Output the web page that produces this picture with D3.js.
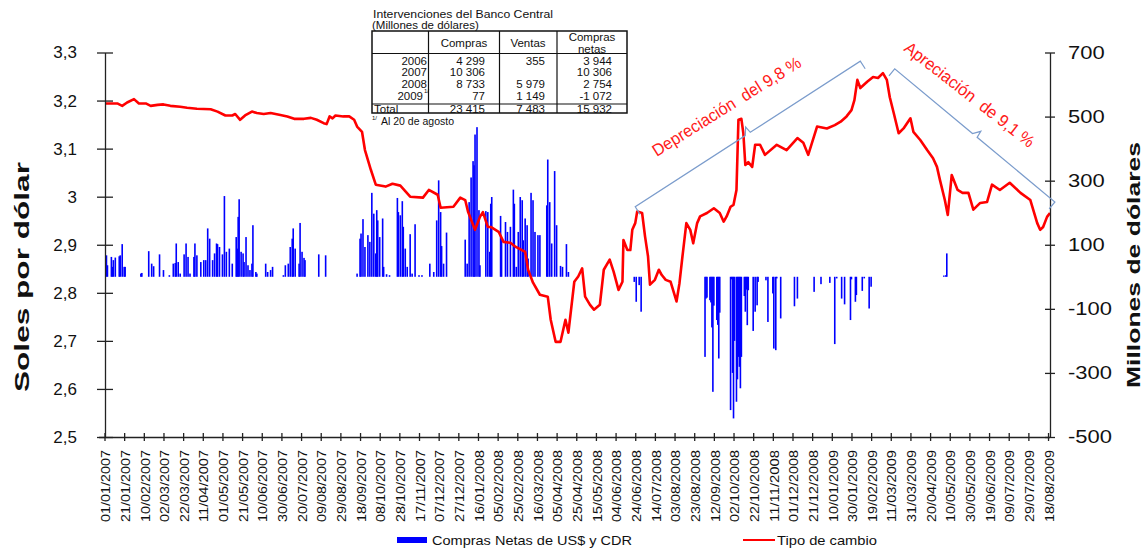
<!DOCTYPE html>
<html>
<head>
<meta charset="utf-8">
<script src="https://cdn.jsdelivr.net/npm/d3@7"></script>
<style>
  body { margin: 0; background: #fff; }
  svg { display: block; }
  text { font-family: "Liberation Sans", Arial, sans-serif; }
</style>
</head>
<body>
<div id="app"></div>
<script>
`use strict`;

// tipo de cambio (soles por dolar)
const rateDates = [
  `2007-01-02`,`2007-01-14`,`2007-01-19`,`2007-01-24`,`2007-01-31`,`2007-02-05`,`2007-02-12`,`2007-02-17`,`2007-02-24`,`2007-03-02`,
  `2007-03-09`,`2007-03-19`,`2007-03-26`,`2007-04-05`,`2007-04-19`,`2007-04-26`,`2007-05-04`,`2007-05-11`,`2007-05-14`,`2007-05-19`,
  `2007-05-24`,`2007-05-31`,`2007-06-05`,`2007-06-12`,`2007-06-19`,`2007-06-29`,`2007-07-06`,`2007-07-13`,`2007-07-23`,`2007-07-30`,
  `2007-08-05`,`2007-08-12`,`2007-08-15`,`2007-08-18`,`2007-08-21`,`2007-08-24`,`2007-09-01`,`2007-09-07`,`2007-09-12`,`2007-09-15`,
  `2007-09-20`,`2007-09-23`,`2007-09-29`,`2007-10-04`,`2007-10-14`,`2007-10-21`,`2007-10-29`,`2007-11-08`,`2007-11-21`,`2007-11-27`,
  `2007-12-06`,`2007-12-09`,`2007-12-22`,`2007-12-29`,`2008-01-03`,`2008-01-06`,`2008-01-13`,`2008-01-18`,`2008-01-21`,`2008-01-26`,
  `2008-01-29`,`2008-02-06`,`2008-02-11`,`2008-02-18`,`2008-02-23`,`2008-03-04`,`2008-03-07`,`2008-03-12`,`2008-03-19`,`2008-03-27`,
  `2008-03-30`,`2008-04-04`,`2008-04-09`,`2008-04-14`,`2008-04-17`,`2008-04-23`,`2008-04-27`,`2008-05-01`,`2008-05-04`,`2008-05-09`,
  `2008-05-13`,`2008-05-19`,`2008-05-23`,`2008-05-29`,`2008-06-02`,`2008-06-07`,`2008-06-11`,`2008-06-12`,`2008-06-16`,`2008-06-19`,
  `2008-06-21`,`2008-06-24`,`2008-06-26`,`2008-07-01`,`2008-07-04`,`2008-07-07`,`2008-07-09`,`2008-07-14`,`2008-07-18`,`2008-07-21`,
  `2008-07-25`,`2008-07-30`,`2008-08-05`,`2008-08-08`,`2008-08-11`,`2008-08-15`,`2008-08-19`,`2008-08-22`,`2008-08-26`,`2008-08-29`,
  `2008-09-05`,`2008-09-12`,`2008-09-18`,`2008-09-22`,`2008-09-25`,`2008-09-29`,`2008-10-02`,`2008-10-05`,`2008-10-07`,`2008-10-10`,
  `2008-10-12`,`2008-10-14`,`2008-10-17`,`2008-10-21`,`2008-10-24`,`2008-10-29`,`2008-11-03`,`2008-11-15`,`2008-11-25`,`2008-12-06`,
  `2008-12-12`,`2008-12-17`,`2008-12-26`,`2009-01-05`,`2009-01-13`,`2009-01-19`,`2009-01-25`,`2009-01-30`,`2009-02-02`,`2009-02-05`,
  `2009-02-08`,`2009-02-15`,`2009-02-21`,`2009-02-26`,`2009-03-03`,`2009-03-07`,`2009-03-10`,`2009-03-14`,`2009-03-19`,`2009-03-24`,
  `2009-03-31`,`2009-04-03`,`2009-04-10`,`2009-04-17`,`2009-04-23`,`2009-04-27`,`2009-04-30`,`2009-05-05`,`2009-05-08`,`2009-05-12`,
  `2009-05-18`,`2009-05-23`,`2009-05-29`,`2009-06-03`,`2009-06-10`,`2009-06-17`,`2009-06-22`,`2009-06-30`,`2009-07-10`,`2009-07-21`,
  `2009-07-31`,`2009-08-07`,`2009-08-10`,`2009-08-13`,`2009-08-17`,`2009-08-20`
];
const rateValues = [
  3.194,3.194,3.189,3.196,3.203,3.194,3.194,3.189,3.191,3.192,
  3.189,3.187,3.185,3.183,3.182,3.177,3.169,3.169,3.172,3.160,
  3.169,3.177,3.174,3.172,3.174,3.170,3.167,3.162,3.162,3.164,
  3.160,3.153,3.151,3.167,3.163,3.169,3.167,3.167,3.160,3.146,
  3.135,3.097,3.056,3.025,3.021,3.027,3.023,3.000,2.998,3.014,
  3.004,2.977,2.979,2.998,2.993,2.968,2.931,2.958,2.968,2.937,
  2.937,2.927,2.906,2.904,2.896,2.885,2.848,2.821,2.796,2.792,
  2.744,2.698,2.698,2.744,2.717,2.823,2.834,2.851,2.792,2.775,
  2.765,2.775,2.848,2.869,2.844,2.806,2.823,2.910,2.889,2.889,
  2.931,2.945,2.969,2.966,2.917,2.876,2.817,2.827,2.848,2.837,
  2.827,2.823,2.782,2.820,2.875,2.945,2.931,2.903,2.945,2.959,
  2.966,2.976,2.966,2.948,2.959,2.979,2.983,3.014,3.160,3.162,
  3.132,3.066,3.072,3.062,3.108,3.108,3.087,3.108,3.097,3.122,
  3.112,3.087,3.146,3.142,3.149,3.156,3.167,3.180,3.201,3.243,
  3.226,3.239,3.249,3.247,3.257,3.243,3.207,3.174,3.132,3.142,
  3.163,3.135,3.118,3.097,3.080,3.062,3.035,2.993,2.962,3.045,
  3.014,3.008,3.008,2.973,2.987,2.989,3.025,3.014,3.029,3.008,
  2.993,2.945,2.931,2.937,2.958,2.966
];

// compras netas de US$ y CDR (millones de dolares)
const buyDates = [
  `2007-01-03`,`2007-01-04`,`2007-01-08`,`2007-01-09`,`2007-01-10`,`2007-01-12`,`2007-01-16`,`2007-01-17`,`2007-01-19`,`2007-01-21`,
  `2007-01-22`,`2007-02-07`,`2007-02-08`,`2007-02-15`,`2007-02-18`,`2007-02-20`,`2007-02-26`,`2007-03-02`,`2007-03-08`,`2007-03-12`,
  `2007-03-14`,`2007-03-15`,`2007-03-17`,`2007-03-19`,`2007-03-23`,`2007-03-25`,`2007-03-27`,`2007-03-29`,`2007-04-02`,`2007-04-03`,
  `2007-04-05`,`2007-04-09`,`2007-04-12`,`2007-04-14`,`2007-04-16`,`2007-04-18`,`2007-04-21`,`2007-04-23`,`2007-04-25`,`2007-04-26`,
  `2007-04-28`,`2007-05-01`,`2007-05-03`,`2007-05-05`,`2007-05-08`,`2007-05-11`,`2007-05-15`,`2007-05-16`,`2007-05-17`,`2007-05-18`,
  `2007-05-20`,`2007-05-22`,`2007-05-23`,`2007-05-25`,`2007-05-27`,`2007-05-29`,`2007-05-31`,`2007-06-01`,`2007-06-04`,`2007-06-05`,
  `2007-06-14`,`2007-06-16`,`2007-06-19`,`2007-06-21`,`2007-07-02`,`2007-07-04`,`2007-07-07`,`2007-07-09`,`2007-07-11`,`2007-07-12`,
  `2007-07-14`,`2007-07-18`,`2007-07-19`,`2007-07-21`,`2007-07-23`,`2007-07-24`,`2007-08-07`,`2007-08-14`,`2007-09-15`,`2007-09-18`,
  `2007-09-19`,`2007-09-21`,`2007-09-23`,`2007-09-26`,`2007-09-28`,`2007-09-30`,`2007-10-02`,`2007-10-04`,`2007-10-05`,`2007-10-06`,
  `2007-10-08`,`2007-10-11`,`2007-10-12`,`2007-10-15`,`2007-10-18`,`2007-10-26`,`2007-10-27`,`2007-10-29`,`2007-10-31`,`2007-11-01`,
  `2007-11-03`,`2007-11-05`,`2007-11-08`,`2007-11-10`,`2007-11-13`,`2007-11-17`,`2007-11-20`,`2007-11-28`,`2007-12-02`,`2007-12-05`,
  `2007-12-07`,`2007-12-09`,`2007-12-10`,`2007-12-12`,`2007-12-15`,`2008-01-03`,`2008-01-05`,`2008-01-07`,`2008-01-09`,`2008-01-11`,
  `2008-01-12`,`2008-01-13`,`2008-01-15`,`2008-01-17`,`2008-01-18`,`2008-01-24`,`2008-01-26`,`2008-01-28`,`2008-01-29`,`2008-01-30`,
  `2008-02-08`,`2008-02-09`,`2008-02-13`,`2008-02-15`,`2008-02-18`,`2008-02-21`,`2008-02-22`,`2008-02-24`,`2008-02-26`,`2008-02-28`,
  `2008-03-01`,`2008-03-02`,`2008-03-04`,`2008-03-06`,`2008-03-07`,`2008-03-10`,`2008-03-12`,`2008-03-14`,`2008-03-17`,`2008-03-19`,
  `2008-03-26`,`2008-03-27`,`2008-03-29`,`2008-03-31`,`2008-04-03`,`2008-04-05`,`2008-04-09`,`2008-04-11`,`2008-04-15`,`2008-04-17`,
  `2008-06-23`,`2008-06-25`,`2008-06-28`,`2008-06-30`,`2008-09-03`,`2008-09-04`,`2008-09-05`,`2008-09-08`,`2008-09-09`,`2008-09-10`,
  `2008-09-11`,`2008-09-12`,`2008-09-15`,`2008-09-16`,`2008-09-17`,`2008-09-18`,`2008-09-29`,`2008-09-30`,`2008-10-01`,`2008-10-02`,
  `2008-10-03`,`2008-10-05`,`2008-10-06`,`2008-10-07`,`2008-10-08`,`2008-10-09`,`2008-10-10`,`2008-10-13`,`2008-10-14`,`2008-10-15`,
  `2008-10-16`,`2008-10-17`,`2008-10-22`,`2008-10-24`,`2008-10-26`,`2008-10-27`,`2008-11-04`,`2008-11-06`,`2008-11-11`,`2008-11-12`,
  `2008-11-14`,`2008-11-15`,`2008-11-19`,`2008-12-03`,`2008-12-06`,`2008-12-23`,`2008-12-30`,`2009-01-08`,`2009-01-13`,`2009-01-15`,
  `2009-01-20`,`2009-01-23`,`2009-01-29`,`2009-01-30`,`2009-02-03`,`2009-02-04`,`2009-02-10`,`2009-02-12`,`2009-02-17`,`2009-02-19`,
  `2009-05-04`,`2009-05-06`,`2009-05-07`
];
const buyValues = [
  67,36,62,31,52,60,64,67,102,31,
  31,10,12,80,41,33,70,21,5,41,
  43,104,46,10,70,104,62,10,62,104,
  67,46,52,52,151,119,52,73,104,102,
  93,70,252,78,88,41,124,88,187,242,
  78,73,46,124,36,21,41,161,15,10,
  41,15,21,31,5,36,41,93,119,151,
  88,41,168,78,59,52,70,67,10,119,
  135,180,93,130,109,262,197,73,208,176,
  124,182,31,8,5,246,202,192,236,156,
  88,31,133,10,164,5,5,41,15,176,
  301,202,96,41,138,116,41,233,310,361,
  348,444,467,208,36,205,202,78,228,249,
  190,119,171,140,156,272,228,31,140,249,
  239,114,182,161,57,262,239,140,130,130,
  223,366,233,104,330,161,34,31,102,15,
  -16,-78,-26,-109,-250,-68,-65,-73,-80,-158,
  -359,-90,-135,-150,-255,-112,-416,-8,-300,-442,
  -200,-390,-320,-250,-281,-348,-250,-60,-109,-40,
  -151,-42,-169,-109,-89,-16,-11,-141,-52,-224,
  -229,-5,-130,-92,-68,-47,-23,-19,-210,-5,
  -68,-86,-135,-8,-78,-57,-44,-5,-99,-31,
  4,5,73
];

const dateTicks = [
  `01/01/2007`,`21/01/2007`,`10/02/2007`,`02/03/2007`,`22/03/2007`,`11/04/2007`,`01/05/2007`,`21/05/2007`,`10/06/2007`,`30/06/2007`,
  `20/07/2007`,`09/08/2007`,`29/08/2007`,`18/09/2007`,`08/10/2007`,`28/10/2007`,`17/11/2007`,`07/12/2007`,`27/12/2007`,`16/01/2008`,
  `05/02/2008`,`25/02/2008`,`16/03/2008`,`05/04/2008`,`25/04/2008`,`15/05/2008`,`04/06/2008`,`24/06/2008`,`14/07/2008`,`03/08/2008`,
  `23/08/2008`,`12/09/2008`,`02/10/2008`,`22/10/2008`,`11/11/2008`,`01/12/2008`,`21/12/2008`,`10/01/2009`,`30/01/2009`,`19/02/2009`,
  `11/03/2009`,`31/03/2009`,`20/04/2009`,`10/05/2009`,`30/05/2009`,`19/06/2009`,`09/07/2009`,`29/07/2009`,`18/08/2009`
];
const solesTicks = [2.5, 2.6, 2.7, 2.8, 2.9, 3.0, 3.1, 3.2, 3.3];
const millonesTicks = [-500, -300, -100, 100, 300, 500, 700];

// cuadro de intervenciones
const tableYears = [`2006`, `2007`, `2008`, `2009`, `Total`];
const tableCompras = [`4 299`, `10 306`, `8 733`, `77`, `23 415`];
const tableVentas = [`355`, ``, `5 979`, `1 149`, `7 483`];
const tableNetas = [`3 944`, `10 306`, `2 754`, `-1 072`, `15 932`];

// llaves: inicio y fin en fecha / soles
const braces = [
  {from: [`2008-06-24`, 2.979], to: [`2009-02-08`, 3.282], side: 1, text: `Depreciación  del 9,8 %`, at: [`2008-09-25`, 3.187], angle: -32, len: 172},
  {from: [`2009-03-15`, 3.266], to: [`2009-08-25`, 2.989], side: -1, text: `Apreciación  de 9,1 %`, at: [`2009-05-30`, 3.212], angle: 38, len: 160}
];

const W = 1144, H = 548;
const parseISO = d3.timeParse(`%Y-%m-%d`), parseDMY = d3.timeParse(`%d/%m/%Y`);

const svg = d3.select(`#app`).append(`svg`).attr(`width`, W).attr(`height`, H);

const x = d3.scaleTime().domain([parseISO(`2007-01-01`), parseISO(`2009-08-20`)]).range([104.5, 1050]);
const yL = d3.scaleLinear().domain([2.5, 3.3]).range([437, 52.5]);
const yR = d3.scaleLinear().domain([-500, 700]).range([437, 52.5]);

const rate = rateDates.map((d, i) => ({date: parseISO(d), value: rateValues[i]}));
const buys = buyDates.map((d, i) => ({date: parseISO(d), value: buyValues[i]}));

// barras
svg.append(`g`).selectAll(`rect`).data(buys).enter().append(`rect`)
  .attr(`x`, d => x(d.date) - 0.8)
  .attr(`width`, 1.6)
  .attr(`y`, d => Math.min(yR(d.value), yR(0)))
  .attr(`height`, d => Math.abs(yR(d.value) - yR(0)))
  .attr(`fill`, `#0000ff`);

// linea
svg.append(`path`).datum(rate)
  .attr(`d`, d3.line().x(d => x(d.date)).y(d => yL(d.value)))
  .attr(`fill`, `none`).attr(`stroke`, `#ff0000`).attr(`stroke-width`, 2.6).attr(`stroke-linejoin`, `round`);

// ejes
const fmtSoles = d => d3.format(`.1f`)(d).replace(`.0`, ``).replace(`.`, `,`);

const gL = svg.append(`g`).attr(`transform`, `translate(105,0)`)
  .call(d3.axisLeft(yL).tickValues(solesTicks).tickSize(8).tickSizeOuter(0).tickPadding(20).tickFormat(fmtSoles));
gL.selectAll(`.tick line`).attr(`x1`, 8);
gL.selectAll(`.tick text`).attr(`font-size`, 17).attr(`font-family`, `Liberation Sans, Arial, sans-serif`).attr(`fill`, `#111`);

const gR = svg.append(`g`).attr(`transform`, `translate(1050,0)`)
  .call(d3.axisRight(yR).tickValues(millonesTicks).tickSize(5).tickSizeOuter(0).tickPadding(13).tickFormat(d => String(d)));
gR.selectAll(`.tick line`).attr(`x1`, -5);
gR.selectAll(`.tick text`).attr(`font-size`, 18).attr(`font-family`, `Liberation Sans, Arial, sans-serif`).attr(`fill`, `#111`)
  .each(function () { this.setAttribute(`textLength`, this.getComputedTextLength() * 1.22); })
  .attr(`lengthAdjust`, `spacingAndGlyphs`);

const gB = svg.append(`g`).attr(`transform`, `translate(0,437)`)
  .call(d3.axisBottom(x).tickValues(dateTicks.map(parseDMY)).tickSize(4).tickSizeOuter(0).tickFormat(d3.timeFormat(`%d/%m/%Y`)));
gB.selectAll(`.tick line`).attr(`y1`, -4);
gB.selectAll(`.tick text`)
  .attr(`transform`, `rotate(-90)`).attr(`x`, -13).attr(`y`, 1).attr(`dy`, `0.35em`)
  .attr(`text-anchor`, `end`).attr(`font-size`, 12).attr(`font-family`, `Liberation Sans, Arial, sans-serif`).attr(`fill`, `#111`)
  .attr(`textLength`, 72).attr(`lengthAdjust`, `spacingAndGlyphs`);
gB.select(`.domain`).attr(`d`, `M99,0.5H1050`);

svg.selectAll(`.domain, .tick line`).attr(`stroke`, `#222`).attr(`stroke-width`, 1.3);

// titulos de ejes
svg.append(`text`).attr(`transform`, `translate(22,277) rotate(-90)`)
  .attr(`text-anchor`, `middle`).attr(`dominant-baseline`, `central`)
  .attr(`font-size`, 20).attr(`font-weight`, `bold`).attr(`fill`, `#111`)
  .attr(`textLength`, 230).attr(`lengthAdjust`, `spacingAndGlyphs`)
  .text(`Soles por dólar`);

svg.append(`text`).attr(`transform`, `translate(1133,265) rotate(-90)`)
  .attr(`text-anchor`, `middle`).attr(`dominant-baseline`, `central`)
  .attr(`font-size`, 19).attr(`font-weight`, `bold`).attr(`fill`, `#111`)
  .attr(`textLength`, 246).attr(`lengthAdjust`, `spacingAndGlyphs`)
  .text(`Millones de dólares`);

// llaves y textos
braces.forEach(B => {

  let p0 = [x(parseISO(B.from[0])), yL(B.from[1])], p1 = [x(parseISO(B.to[0])), yL(B.to[1])];

  let dx = p1[0] - p0[0], dy = p1[1] - p0[1], L = Math.hypot(dx, dy);

  let u = [dx / L, dy / L], n = [-u[1] * B.side, u[0] * B.side];

  if (n[1] < 0) n = [-n[0], -n[1]];

  let m = [(p0[0] + p1[0]) / 2, (p0[1] + p1[1]) / 2];

  let pts = [
    [p0[0] + n[0] * 9, p0[1] + n[1] * 9], p0,
    [m[0] - u[0] * 3, m[1] - u[1] * 3],
    [m[0] - n[0] * 7 + u[0] * 2, m[1] - n[1] * 7 + u[1] * 2],
    [m[0] + u[0] * 3, m[1] + u[1] * 3],
    p1, [p1[0] + n[0] * 9, p1[1] + n[1] * 9]
  ];

  svg.append(`path`).attr(`d`, d3.line()(pts)).attr(`fill`, `none`).attr(`stroke`, `#7b9ccc`).attr(`stroke-width`, 1.2);

  let t = [x(parseISO(B.at[0])), yL(B.at[1])];

  svg.append(`text`).attr(`transform`, `translate(${t[0]},${t[1]}) rotate(${B.angle})`)
    .attr(`text-anchor`, `middle`).attr(`dominant-baseline`, `central`)
    .attr(`font-family`, `Lato, "Open Sans", sans-serif`).attr(`font-size`, 17).attr(`fill`, `#ff1a1a`)
    .attr(`textLength`, B.len).attr(`lengthAdjust`, `spacingAndGlyphs`)
    .style(`white-space`, `pre`)
    .text(B.text);
});

// leyenda
svg.append(`rect`).attr(`x`, 397).attr(`y`, 537).attr(`width`, 30).attr(`height`, 6).attr(`fill`, `#0000ff`);
svg.append(`text`).attr(`x`, 432).attr(`y`, 540).attr(`dominant-baseline`, `central`).attr(`font-size`, 13).attr(`fill`, `#111`)
  .attr(`textLength`, 200).attr(`lengthAdjust`, `spacingAndGlyphs`).text(`Compras Netas de US$ y CDR`);
svg.append(`line`).attr(`x1`, 743).attr(`x2`, 775).attr(`y1`, 540).attr(`y2`, 540).attr(`stroke`, `#ff0000`).attr(`stroke-width`, 2);
svg.append(`text`).attr(`x`, 777).attr(`y`, 540).attr(`dominant-baseline`, `central`).attr(`font-size`, 13).attr(`fill`, `#111`)
  .attr(`textLength`, 100).attr(`lengthAdjust`, `spacingAndGlyphs`).text(`Tipo de cambio`);

// cuadro
const T = svg.append(`g`).attr(`font-size`, 11.5).attr(`fill`, `#111`);

T.append(`text`).attr(`x`, 373).attr(`y`, 13.5).attr(`dominant-baseline`, `central`)
  .attr(`textLength`, 180).attr(`lengthAdjust`, `spacingAndGlyphs`).text(`Intervenciones del Banco Central`);
T.append(`text`).attr(`x`, 372).attr(`y`, 24.5).attr(`dominant-baseline`, `central`).text(`(Millones de dólares)`);

T.append(`rect`).attr(`x`, 372).attr(`y`, 31).attr(`width`, 255).attr(`height`, 82).attr(`fill`, `none`).attr(`stroke`, `#111`).attr(`stroke-width`, 1.5);
[428.5, 499.5, 557].forEach(cx => T.append(`line`).attr(`x1`, cx).attr(`x2`, cx).attr(`y1`, 31).attr(`y2`, 113).attr(`stroke`, `#111`).attr(`stroke-width`, 1.2));
[53.5, 104].forEach(cy => T.append(`line`).attr(`x1`, 372).attr(`x2`, 627).attr(`y1`, cy).attr(`y2`, cy).attr(`stroke`, `#111`).attr(`stroke-width`, 1.2));

T.append(`text`).attr(`x`, 464).attr(`y`, 43).attr(`text-anchor`, `middle`).attr(`dominant-baseline`, `central`).text(`Compras`);
T.append(`text`).attr(`x`, 528).attr(`y`, 43).attr(`text-anchor`, `middle`).attr(`dominant-baseline`, `central`).text(`Ventas`);
T.append(`text`).attr(`x`, 592).attr(`y`, 36.5).attr(`text-anchor`, `middle`).attr(`dominant-baseline`, `central`).text(`Compras`);
T.append(`text`).attr(`x`, 592).attr(`y`, 48.5).attr(`text-anchor`, `middle`).attr(`dominant-baseline`, `central`).text(`netas`);

const rowY = [60.5, 72, 83.5, 95.5, 108.5];

tableYears.forEach((yr, i) => {

  if (yr === `Total`) {
    T.append(`text`).attr(`x`, 374).attr(`y`, rowY[i]).attr(`dominant-baseline`, `central`).text(yr);
  } else {
    T.append(`text`).attr(`x`, i === 3 ? 423 : 427).attr(`y`, rowY[i]).attr(`text-anchor`, `end`).attr(`dominant-baseline`, `central`).text(yr);
  }

  T.append(`text`).attr(`x`, 485).attr(`y`, rowY[i]).attr(`text-anchor`, `end`).attr(`dominant-baseline`, `central`).text(tableCompras[i]);
  T.append(`text`).attr(`x`, 545).attr(`y`, rowY[i]).attr(`text-anchor`, `end`).attr(`dominant-baseline`, `central`).text(tableVentas[i]);
  T.append(`text`).attr(`x`, 612).attr(`y`, rowY[i]).attr(`text-anchor`, `end`).attr(`dominant-baseline`, `central`).text(tableNetas[i]);
});

T.append(`text`).attr(`x`, 424).attr(`y`, 91).attr(`font-size`, 6).attr(`dominant-baseline`, `central`).text(`1/`);
T.append(`text`).attr(`x`, 372).attr(`y`, 117.5).attr(`font-size`, 6).attr(`dominant-baseline`, `central`).text(`1/`);
T.append(`text`).attr(`x`, 381).attr(`y`, 120.5).attr(`font-size`, 10.5).attr(`dominant-baseline`, `central`).text(`Al 20 de agosto`);
</script>
</body>
</html>
